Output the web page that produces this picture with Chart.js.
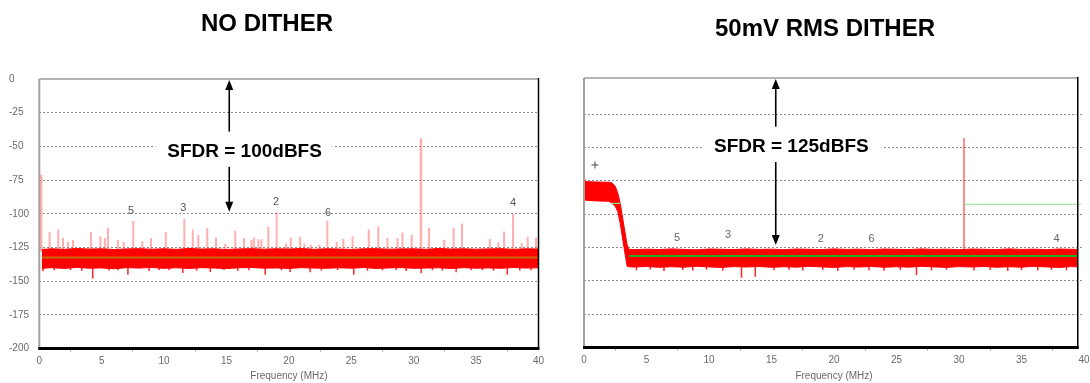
<!DOCTYPE html>
<html><head><meta charset="utf-8">
<script src="https://cdn.jsdelivr.net/npm/chart.js@4.4.1/dist/chart.umd.min.js"></script>
<style>
html,body{margin:0;padding:0;background:#fff;width:1090px;height:383px;overflow:hidden}
.box{position:absolute;top:0;height:383px;width:545px}
#lbox{left:0}
#rbox{left:545px}
</style></head><body>
<div class="box" id="lbox"><canvas id="left"></canvas></div>
<div class="box" id="rbox"><canvas id="right"></canvas></div>
<script>
// ---------------- shared ----------------
const xTickStep = 5;
const yTickStep = 25;

// ---------------- LEFT PANEL: NO DITHER ----------------
const leftTitle = 'NO DITHER';
const leftSfdrText = 'SFDR = 100dBFS';
const leftFloorFreq = [0.2,1,2,3,4,5,6,7,8,9,10,11,12,13,14,15,16,17,18,19,20,21,22,23,24,25,26,27,28,29,30,31,32,33,34,35,36,37,38,39,40];
const leftFloorTop = [-126.5,-126.0,-126.4,-125.8,-126.2,-126.0,-126.6,-126.1,-125.9,-126.3,
                      -126.0,-126.4,-125.8,-126.2,-126.0,-126.5,-126.1,-125.9,-126.3,-126.0,
                      -126.2,-125.8,-126.4,-126.0,-126.2,-126.5,-126.0,-125.9,-126.3,-126.1,
                      -126.0,-126.4,-125.8,-126.2,-126.0,-126.3,-126.1,-125.9,-126.4,-126.0,-126.2];
const leftFloorBottom = [-140.5,-140.0,-140.6,-139.8,-140.4,-140.2,-140.8,-140.0,-140.3,-139.9,
                         -140.5,-140.1,-140.6,-140.0,-140.3,-140.7,-140.1,-139.9,-140.4,-140.2,
                         -140.6,-140.0,-140.3,-140.5,-140.1,-140.4,-139.9,-140.6,-140.2,-140.0,
                         -140.5,-140.3,-140.1,-140.6,-140.0,-140.4,-140.2,-140.5,-139.9,-140.3,-140.1];
const leftAvgFreq = [0.2, 40];
const leftAvgDb = [-132.4, -132.4];
const leftToneFreq = [0.15, 30.58];
const leftTonePeak = [-71.1, -43.9];
const leftSpurFreq = [0.83,1.52,1.9,2.3,2.7,4.14,4.9,5.26,5.5,6.3,6.76,7.53,8.25,8.95,10.13,11.62,12.3,12.74,13.46,14.16,
                      14.9,15.7,16.4,17.0,17.2,17.55,17.8,18.35,19.02,19.77,20.14,20.9,21.24,21.75,22.44,23.08,23.83,24.36,25.1,26.4,
                      27.16,27.9,28.7,29.1,29.84,31.23,32.45,33.2,33.87,36.1,36.78,37.24,37.96,38.65,39.13,39.8];
const leftSpurPeak = [-113.6,-111.6,-118,-121,-119.5,-113.6,-116.8,-118,-110.6,-119.5,-121,-105.2,-120.5,-118,-113.6,-103.7,-111.6,-115.6,-110.6,-117.6,
                      -122.4,-112.6,-118,-119.3,-117.6,-119,-119,-109.6,-98.7,-122,-117.6,-117,-122,-123,-123,-105.2,-121,-118.5,-116.8,-111.6,
                      -109.4,-118,-118,-114,-115.6,-110.6,-119.3,-110.6,-107.2,-118.7,-121.3,-113.1,-100,-121.7,-117,-118];
const leftDipFreq = [0.3,1.2,2.5,3.4,4.28,5.6,6.3,7.1,8.8,9.6,10.4,11.5,12.6,13.7,14.8,15.9,16.8,18.1,19.4,20.1,
                     21.7,22.6,23.9,25.2,26.3,27.5,28.6,29.4,30.6,31.5,32.3,33.4,34.6,35.5,36.4,37.5,38.5,39.4];
const leftDipDb = [-142.7,-142,-141.8,-142.3,-148.1,-142.1,-141.9,-145.2,-142.4,-141.7,-142,-143.9,-142.2,-143.2,-141.8,-142.3,-142,-145.2,-141.9,-143.2,
                   -143.5,-142.1,-141.8,-145.2,-142.3,-142,-141.7,-142.4,-144.2,-141.9,-142.2,-143.5,-142,-141.8,-142.3,-145.2,-142.1,-141.9];
const leftHarmText = ['5','3','2','6','4'];
const leftHarmFreq = [7.35,11.54,18.97,23.13,37.96];
const leftHarmDb = [-98.3,-95.6,-90.9,-99.3,-91.9];

// ---------------- RIGHT PANEL: 50mV RMS DITHER ----------------
const rightTitle = '50mV RMS DITHER';
const rightSfdrText = 'SFDR = 125dBFS';
const rightBandFreq = [0,0.12,1,2,2.2,2.5,2.7,2.9,3.2,3.45,3.6,
                       4,5,6,7,8,9,10,11,12,13,14,15,16,17,18,19,20,21,22,23,24,25,26,27,28,29,30,31,32,33,34,35,36,37,38,39,39.5];
const rightBandTop = [-72,-75.5,-75.8,-76,-76.2,-79,-84,-92,-109,-123,-126.3,
                      -126.6,-126.2,-126.5,-126.0,-126.4,-126.7,-126.1,-126.3,-126.5,-126.0,
                      -126.4,-126.2,-126.6,-126.1,-126.3,-126.5,-126.0,-126.4,-126.2,-126.6,
                      -126.1,-126.3,-126.5,-126.0,-126.4,-126.2,-126.6,-126.1,-126.3,-126.5,
                      -126.0,-126.4,-126.2,-126.6,-126.1,-126.3,-126.4];
const rightBandBottom = [-89.5,-89.5,-90,-90.3,-91.5,-94,-98,-107,-125,-139,-139.4,
                         -139.6,-139.2,-139.8,-139.4,-139.7,-139.1,-139.5,-139.9,-139.3,-139.6,
                         -139.2,-139.8,-139.4,-139.7,-139.1,-139.5,-139.9,-139.3,-139.6,-139.2,
                         -139.8,-139.4,-139.7,-139.1,-139.5,-139.9,-139.3,-139.6,-139.2,-139.8,
                         -139.4,-139.7,-139.1,-139.5,-139.9,-139.3,-139.5];
const rightAvgFreq = [3.6, 39.5];
const rightAvgDb = [-131.3, -131.3];
const rightMarkFreq = [2.2, 2.9, 2.95, 30.4, 39.8];
const rightMarkDb = [-91.8, -91.8, null, -92.5, -92.5];
const rightToneFreq = [30.4];
const rightTonePeak = [-42.8];
const rightCrossFreq = [0.88];
const rightCrossDb = [-63];
const rightDipFreq = [4.2,5.3,6.4,7.9,8.7,9.8,11.1,12.6,13.7,15.2,16.4,17.5,19.1,20.3,21.6,22.8,24.0,25.3,26.6,27.8,
                      29.0,31.2,32.5,33.9,35.0,36.3,37.4,38.6];
const rightDipDb = [-142,-141.5,-142.5,-141.8,-142.2,-141.6,-142.4,-147.6,-146.9,-142,-141.7,-142.3,-141.9,-142.5,-141.6,-142.1,-142.4,-141.8,-145.6,-142.2,
                    -141.7,-142.3,-141.9,-142.6,-141.8,-142.2,-141.6,-142];
const rightHarmText = ['5','3','2','6','4'];
const rightHarmFreq = [7.44,11.52,18.94,23.0,37.8];
const rightHarmDb = [-118,-115.6,-118.6,-118.6,-118.6];

// ---------------- helpers ----------------
const FONT = '"Liberation Sans", Arial, Helvetica, sans-serif';
function pts(xs, ys) { return xs.map((x, i) => ({x: x, y: ys[i]})); }
function lineDs(xs, ys, color, width, order, extra) {
  return Object.assign({type: 'line', data: pts(xs, ys), borderColor: color, borderWidth: width,
    pointRadius: 0, fill: false, tension: 0, order: order, spanGaps: false}, extra || {});
}
function barDs(xs, lows, highs, color, thick, order) {
  return {type: 'bar', data: xs.map((x, i) => ({x: x, y: [typeof lows === 'number' ? lows : lows[i], highs[i]]})),
    backgroundColor: color, borderWidth: 0, barThickness: thick, grouped: false, order: order, inflateAmount: 0};
}

const deco = {
  id: 'deco',
  afterDraw(chart, args, o) {
    const ctx = chart.ctx, a = chart.chartArea, xs = chart.scales.x, ys = chart.scales.y;
    ctx.save();
    const rightX = xs.getPixelForValue(o.rightF);
    // borders
    ctx.lineCap = 'butt';
    ctx.strokeStyle = '#b4b4b0'; ctx.lineWidth = 2;
    ctx.beginPath(); ctx.moveTo(a.left, o.topY); ctx.lineTo(rightX, o.topY); ctx.stroke();
    ctx.strokeStyle = '#a8a098'; ctx.lineWidth = 2;
    ctx.beginPath(); ctx.moveTo(a.left, o.topY); ctx.lineTo(a.left, a.bottom); ctx.stroke();
    ctx.strokeStyle = '#000'; ctx.lineWidth = 1.5;
    ctx.beginPath(); ctx.moveTo(rightX, o.topY - 1); ctx.lineTo(rightX, a.bottom); ctx.stroke();
    ctx.lineWidth = 3;
    ctx.beginPath(); ctx.moveTo(a.left - 1, a.bottom); ctx.lineTo(rightX + 1, a.bottom); ctx.stroke();

    // harmonic labels
    ctx.fillStyle = o.harmColor; ctx.font = o.harmFont; ctx.textAlign = 'center'; ctx.textBaseline = 'middle';
    o.harmText.forEach((t, i) => ctx.fillText(t, xs.getPixelForValue(o.harmF[i]), ys.getPixelForValue(o.harmDb[i])));

    // SFDR text with white background
    const ty = ys.getPixelForValue(o.textDb);
    const bx1 = xs.getPixelForValue(o.boxF[0]), bx2 = xs.getPixelForValue(o.boxF[1]);
    ctx.fillStyle = '#fff'; ctx.fillRect(bx1, ty - 9, bx2 - bx1, 18);
    ctx.fillStyle = '#000'; ctx.font = 'bold 19px ' + FONT; ctx.textAlign = 'left';
    ctx.fillText(o.text, xs.getPixelForValue(o.textF), ty + 1);

    // arrows
    const ax = xs.getPixelForValue(o.arrowF);
    const yTop = o.topY + 1, yUp = ys.getPixelForValue(o.upEnd);
    const yDn = ys.getPixelForValue(o.downStart), yTip = ys.getPixelForValue(o.tip);
    ctx.strokeStyle = '#000'; ctx.fillStyle = '#000'; ctx.lineWidth = 1.6;
    ctx.beginPath(); ctx.moveTo(ax, yTop + 8); ctx.lineTo(ax, yUp); ctx.stroke();
    ctx.beginPath(); ctx.moveTo(ax, yTop); ctx.lineTo(ax - 4, yTop + 10); ctx.lineTo(ax + 4, yTop + 10); ctx.closePath(); ctx.fill();
    ctx.beginPath(); ctx.moveTo(ax, yDn); ctx.lineTo(ax, yTip - 8); ctx.stroke();
    ctx.beginPath(); ctx.moveTo(ax, yTip); ctx.lineTo(ax - 4, yTip - 10); ctx.lineTo(ax + 4, yTip - 10); ctx.closePath(); ctx.fill();

    // panel title
    ctx.fillStyle = '#000'; ctx.font = 'bold 24px ' + FONT; ctx.textAlign = 'center';
    ctx.fillText(o.title, o.titleX, o.titleY);
    ctx.restore();
  }
};

function makeChart(id, datasets, cfg) {
  return new Chart(document.getElementById(id), {
    type: 'line',
    data: {datasets: datasets},
    options: {
      responsive: true, maintainAspectRatio: false, animation: false, devicePixelRatio: 1,
      layout: {padding: cfg.padding},
      plugins: {legend: {display: false}, tooltip: {enabled: false}, deco: cfg.deco},
      scales: {
        x: {
          type: 'linear', min: 0, max: 40, offset: false,
          afterFit: s => { s.height = cfg.xHeight; s.paddingLeft = 0; s.paddingRight = 0; },
          ticks: {stepSize: xTickStep, autoSkip: false, maxRotation: 0, padding: 4, color: '#6a6a6a',
                  font: {family: FONT, size: 10}},
          grid: {drawOnChartArea: false, drawTicks: true, tickLength: 3, tickColor: '#999', color: '#999'},
          border: {display: false},
          title: {display: true, text: 'Frequency (MHz)', color: '#6a6a6a', font: {family: FONT, size: 10},
                  padding: {top: 0, bottom: 1}}
        },
        y: {
          type: 'linear', min: -200, max: 0,
          afterFit: s => { s.width = cfg.yWidth; s.paddingTop = 0; s.paddingBottom = 0; },
          ticks: {display: cfg.yLabels, stepSize: yTickStep, crossAlign: 'far', padding: 0, color: '#6a6a6a',
                  font: {family: FONT, size: 10}},
          grid: {drawTicks: false, lineWidth: 1,
                 color: c => (c.tick && (c.tick.value === 0 || c.tick.value === -200)) ? 'rgba(0,0,0,0)' : '#8c8c8c'},
          border: {display: false, dash: [2, 2]}
        }
      }
    },
    plugins: [deco]
  });
}

// ---------------- left chart ----------------
makeChart('left', [
  lineDs(leftAvgFreq, leftAvgDb, '#c8640a', 2, 0),
  lineDs(leftFloorFreq, leftFloorTop, '#ff0000', 1, 2),
  lineDs(leftFloorFreq, leftFloorBottom, '#ff0000', 1, 2, {fill: '-1', backgroundColor: '#ff0000'}),
  barDs(leftDipFreq, -139, leftDipDb, 'rgba(255,0,0,0.85)', 1.5, 1),
  barDs(leftToneFreq, -128, leftTonePeak, 'rgba(255,110,110,0.55)', 2.5, 5),
  barDs(leftSpurFreq, -128, leftSpurPeak, 'rgba(255,110,110,0.55)', 2, 5)
], {
  padding: {top: 79, left: 9, right: 6.5, bottom: 0},
  xHeight: 34.5, yWidth: 30.3, yLabels: true,
  deco: {
    rightF: 40, topY: 79,
    harmText: leftHarmText, harmF: leftHarmFreq, harmDb: leftHarmDb, harmColor: '#555', harmFont: '11px ' + FONT,
    text: leftSfdrText, textF: 10.25, textDb: -53.1, boxF: [9.3, 23.5],
    arrowF: 15.22, upEnd: -39, downStart: -65.2, tip: -98.5,
    title: leftTitle, titleX: 267, titleY: 24
  }
});

// ---------------- right chart ----------------
makeChart('right', [
  lineDs(rightAvgFreq, rightAvgDb, '#22b022', 2, 0),
  lineDs(rightMarkFreq, rightMarkDb, '#8fe08f', 1.2, 0),
  lineDs(rightCrossFreq, rightCrossDb, '#444', 1, 0, {showLine: false, pointRadius: 3.5, pointStyle: 'cross', pointBorderColor: '#444', pointBorderWidth: 1}),
  lineDs(rightBandFreq, rightBandTop, '#ff0000', 1, 2),
  lineDs(rightBandFreq, rightBandBottom, '#ff0000', 1, 2, {fill: '-1', backgroundColor: '#ff0000'}),
  barDs(rightDipFreq, -139, rightDipDb, 'rgba(255,0,0,0.85)', 1.5, 1),
  barDs(rightToneFreq, -128, rightTonePeak, 'rgba(255,80,80,0.65)', 2, 5)
], {
  padding: {top: 81, left: 0, right: 6, bottom: 0},
  xHeight: 35.5, yWidth: 39, yLabels: false,
  deco: {
    rightF: 39.5, topY: 78,
    harmText: rightHarmText, harmF: rightHarmFreq, harmDb: rightHarmDb, harmColor: '#666', harmFont: '11px ' + FONT,
    text: rightSfdrText, textF: 10.4, textDb: -48.8, boxF: [9.4, 23.8],
    arrowF: 15.34, upEnd: -34.3, downStart: -60.8, tip: -123,
    title: rightTitle, titleX: 280, titleY: 29
  }
});
</script>
</body></html>
